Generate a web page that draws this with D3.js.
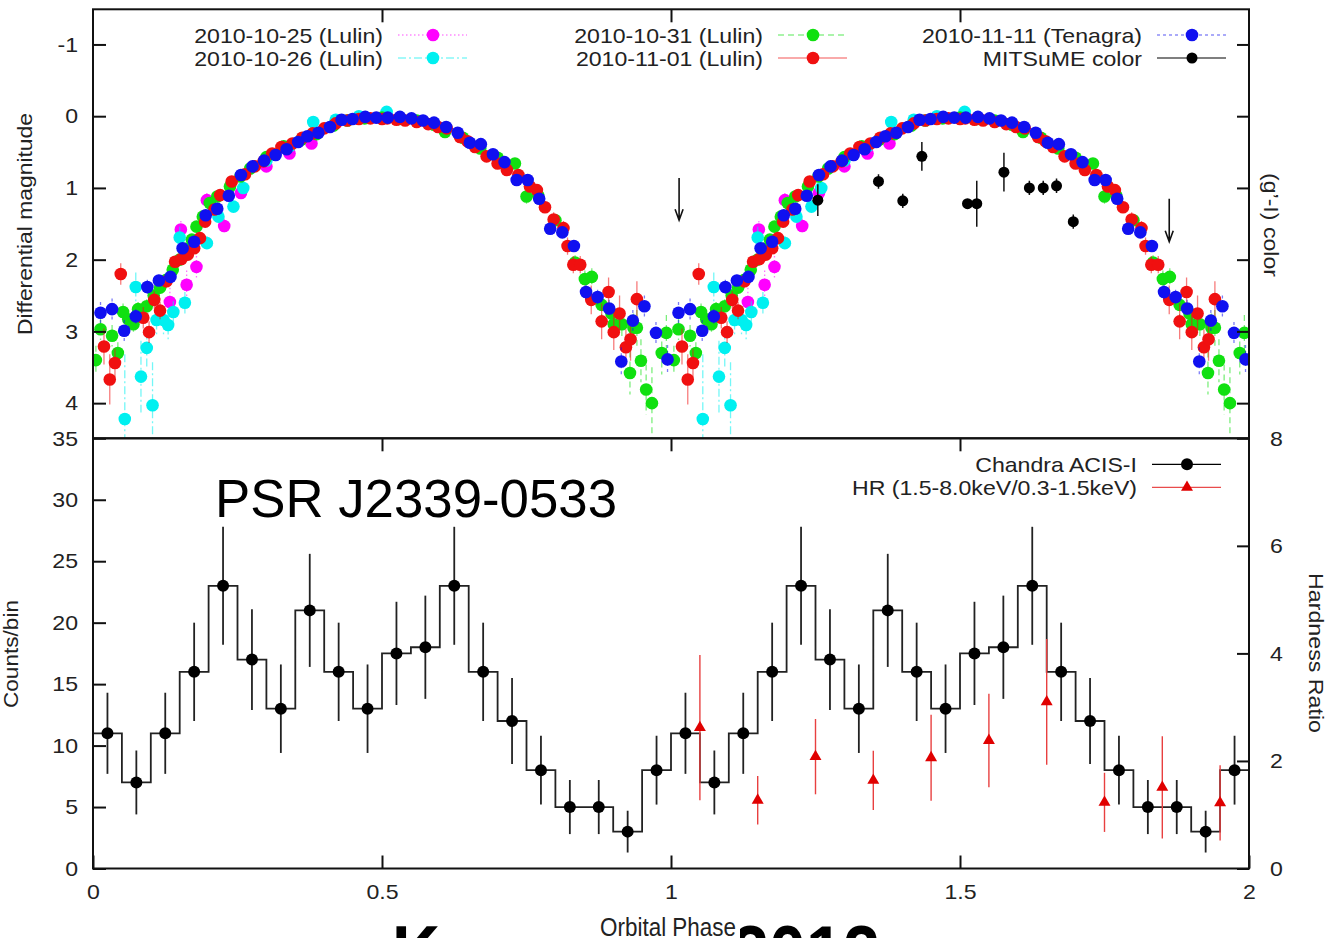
<!DOCTYPE html>
<html>
<head>
<meta charset="utf-8">
<script src="https://cdn.jsdelivr.net/npm/d3@7"></script>
<style>
  html, body { margin: 0; padding: 0; background: #fff; }
  text { font-family: "Liberation Sans", Arial, Helvetica, sans-serif; }
</style>
</head>
<body>
<div id="graph"></div>
<script>

//----------------------------------------------------------
// light curves, one orbital cycle each: [phase, magnitude, error]
const lulin1025 = [
  [0.133, 2.59, 0.20], [0.152, 1.58, 0.12], [0.162, 2.35, 0.20], [0.179, 2.10, 0.15],
  [0.197, 1.17, 0.10], [0.227, 1.53, 0.10], [0.256, 1.07, 0.08], [0.300, 0.70, 0.06],
  [0.340, 0.52, 0.06], [0.378, 0.38, 0.05], [0.420, 0.10, 0.04], [0.470, 0.02, 0.04]
];

const lulin1026 = [
  [0.055, 4.22, 0.90], [0.074, 2.38, 0.20], [0.083, 3.63, 0.50], [0.093, 3.23, 0.30],
  [0.103, 4.03, 0.60], [0.110, 2.84, 0.20], [0.122, 2.84, 0.20], [0.130, 2.91, 0.20],
  [0.139, 2.73, 0.15], [0.150, 1.69, 0.15], [0.159, 2.60, 0.15], [0.197, 1.77, 0.10],
  [0.217, 1.40, 0.08], [0.243, 1.26, 0.07], [0.260, 1.00, 0.06], [0.300, 0.62, 0.05],
  [0.340, 0.42, 0.05], [0.381, 0.08, 0.05], [0.420, 0.05, 0.04], [0.460, 0.00, 0.04],
  [0.508, -0.06, 0.04]
];

const lulin1031 = [
  [0.005, 3.40, 0.20], [0.013, 2.97, 0.15], [0.033, 3.06, 0.15], [0.043, 3.30, 0.15],
  [0.052, 2.73, 0.12], [0.061, 2.83, 0.12], [0.070, 2.90, 0.12], [0.078, 2.69, 0.10],
  [0.093, 2.65, 0.10], [0.105, 2.50, 0.08], [0.116, 2.39, 0.08], [0.127, 2.28, 0.07],
  [0.138, 2.14, 0.07], [0.150, 2.00, 0.06], [0.160, 1.85, 0.06], [0.171, 1.72, 0.05],
  [0.179, 1.54, 0.05], [0.190, 1.40, 0.05], [0.202, 1.21, 0.05], [0.215, 1.12, 0.04],
  [0.237, 0.98, 0.04], [0.255, 0.84, 0.04], [0.272, 0.73, 0.04], [0.300, 0.57, 0.04],
  [0.330, 0.42, 0.03], [0.360, 0.33, 0.03], [0.387, 0.25, 0.03], [0.416, 0.13, 0.03],
  [0.440, 0.06, 0.03], [0.470, 0.03, 0.03], [0.500, 0.02, 0.03], [0.530, 0.04, 0.03],
  [0.560, 0.06, 0.03], [0.590, 0.12, 0.03], [0.609, 0.22, 0.03], [0.640, 0.30, 0.04],
  [0.670, 0.45, 0.04], [0.700, 0.58, 0.05], [0.730, 0.66, 0.05], [0.750, 1.12, 0.10],
  [0.770, 1.10, 0.06], [0.800, 1.45, 0.08], [0.834, 2.04, 0.10], [0.851, 2.27, 0.12],
  [0.863, 2.24, 0.12], [0.880, 2.63, 0.15], [0.897, 2.75, 0.15], [0.901, 2.90, 0.20],
  [0.915, 2.90, 0.20], [0.929, 3.58, 0.30], [0.935, 2.95, 0.20], [0.941, 2.95, 0.25],
  [0.948, 3.41, 0.30], [0.957, 3.81, 0.35], [0.967, 4.00, 0.50], [0.984, 3.30, 0.30],
  [0.992, 3.02, 0.25]
];

const lulin1101 = [
  [0.019, 3.21, 0.25], [0.029, 3.67, 0.35], [0.038, 3.44, 0.20], [0.048, 2.20, 0.15],
  [0.087, 2.81, 0.15], [0.097, 3.01, 0.15], [0.106, 2.56, 0.12], [0.116, 2.71, 0.12],
  [0.127, 2.30, 0.10], [0.142, 2.03, 0.08], [0.153, 1.99, 0.08], [0.164, 1.93, 0.07],
  [0.175, 1.84, 0.07], [0.185, 1.70, 0.06], [0.194, 1.47, 0.06], [0.210, 1.30, 0.05],
  [0.220, 1.10, 0.05], [0.240, 0.91, 0.05], [0.263, 0.81, 0.05], [0.280, 0.70, 0.04],
  [0.295, 0.63, 0.04], [0.310, 0.52, 0.04], [0.326, 0.43, 0.04], [0.345, 0.38, 0.04],
  [0.362, 0.30, 0.03], [0.380, 0.24, 0.03], [0.400, 0.17, 0.03], [0.420, 0.10, 0.03],
  [0.440, 0.06, 0.03], [0.460, 0.04, 0.03], [0.480, 0.03, 0.03], [0.500, 0.04, 0.03],
  [0.509, 0.03, 0.03], [0.525, 0.05, 0.03], [0.540, 0.06, 0.03], [0.560, 0.08, 0.03],
  [0.580, 0.11, 0.03], [0.597, 0.15, 0.03], [0.612, 0.17, 0.04], [0.635, 0.29, 0.04],
  [0.648, 0.35, 0.04], [0.661, 0.43, 0.04], [0.681, 0.56, 0.05], [0.700, 0.66, 0.05],
  [0.716, 0.75, 0.05], [0.736, 0.82, 0.06], [0.756, 0.98, 0.06], [0.768, 1.03, 0.06],
  [0.782, 1.27, 0.08], [0.797, 1.44, 0.10], [0.814, 1.56, 0.10], [0.821, 1.81, 0.12],
  [0.831, 2.07, 0.12], [0.843, 2.07, 0.12], [0.862, 2.56, 0.20], [0.880, 2.86, 0.25],
  [0.892, 2.45, 0.20], [0.901, 3.01, 0.25], [0.911, 2.75, 0.25], [0.922, 3.22, 0.25],
  [0.930, 3.11, 0.30], [0.941, 2.55, 0.25]
];

const tenagra1111 = [
  [0.013, 2.74, 0.15], [0.033, 2.69, 0.15], [0.054, 2.99, 0.15], [0.074, 2.79, 0.10],
  [0.094, 2.38, 0.10], [0.114, 2.29, 0.08], [0.134, 2.24, 0.08], [0.155, 1.84, 0.06],
  [0.175, 1.75, 0.06], [0.195, 1.38, 0.05], [0.215, 1.29, 0.05], [0.235, 1.11, 0.05],
  [0.256, 0.82, 0.04], [0.276, 0.70, 0.04], [0.296, 0.62, 0.04], [0.316, 0.54, 0.04],
  [0.335, 0.46, 0.04], [0.355, 0.36, 0.03], [0.371, 0.28, 0.03], [0.390, 0.23, 0.03],
  [0.410, 0.15, 0.03], [0.430, 0.05, 0.03], [0.449, 0.04, 0.03], [0.471, 0.01, 0.03],
  [0.490, 0.02, 0.03], [0.510, 0.02, 0.03], [0.531, 0.01, 0.03], [0.551, 0.03, 0.03],
  [0.571, 0.06, 0.03], [0.590, 0.09, 0.03], [0.611, 0.15, 0.03], [0.631, 0.23, 0.03],
  [0.652, 0.37, 0.04], [0.671, 0.39, 0.04], [0.692, 0.53, 0.04], [0.712, 0.64, 0.04],
  [0.733, 0.89, 0.05], [0.752, 0.89, 0.05], [0.772, 1.15, 0.05], [0.791, 1.57, 0.06],
  [0.812, 1.62, 0.06], [0.832, 1.81, 0.08], [0.853, 2.45, 0.10], [0.873, 2.52, 0.10],
  [0.893, 2.68, 0.12], [0.914, 3.42, 0.20], [0.934, 2.85, 0.15], [0.954, 2.65, 0.15],
  [0.974, 3.02, 0.15], [0.994, 3.39, 0.20]
];

// MITSuME (g'-I) colour, plotted once: [phase, colour, error]
const mitsumeColour = [
  [1.254, 1.17, 0.22], [1.359, 0.91, 0.10], [1.401, 1.18, 0.10], [1.434, 0.56, 0.20],
  [1.513, 1.22, 0.06], [1.529, 1.22, 0.32], [1.576, 0.78, 0.27], [1.620, 1.00, 0.10],
  [1.644, 1.00, 0.10], [1.667, 0.97, 0.10], [1.696, 1.47, 0.10]
];

// eclipse arrows
const arrowPhase = [1.014, 1.862];
const arrowFrom = [0.86, 1.15];
const arrowTo = [1.45, 1.75];

// Chandra ACIS-I light curve
const chandraPhase = [
  0.025, 0.075, 0.125, 0.175, 0.225, 0.275, 0.325, 0.375, 0.425, 0.475,
  0.525, 0.575, 0.625, 0.675, 0.725, 0.775, 0.825, 0.875, 0.925, 0.975,
  1.025, 1.075, 1.125, 1.175, 1.225, 1.275, 1.325, 1.375, 1.425, 1.475,
  1.525, 1.575, 1.625, 1.675, 1.725, 1.775, 1.825, 1.875, 1.925, 1.975
];
const chandraCounts = [
  11, 7, 11, 16, 23, 17, 13, 21, 16, 13, 17.5, 18, 23, 16, 12, 8, 5, 5, 3, 8,
  11, 7, 11, 16, 23, 17, 13, 21, 16, 13, 17.5, 18, 23, 16, 12, 8, 5, 5, 3, 8
];
const chandraErr = [
  3.3, 2.6, 3.3, 4.0, 4.8, 4.1, 3.6, 4.6, 4.0, 3.6, 4.2, 4.2, 4.8, 4.0, 3.5, 2.8, 2.2, 2.2, 1.7, 2.8,
  3.3, 2.6, 3.3, 4.0, 4.8, 4.1, 3.6, 4.6, 4.0, 3.6, 4.2, 4.2, 4.8, 4.0, 3.5, 2.8, 2.2, 2.2, 1.7, 2.8
];
const binHalfWidth = 0.025;

// hardness ratio
const hrPhase = [1.05, 1.15, 1.25, 1.35, 1.45, 1.55, 1.65, 1.75, 1.85, 1.95];
const hrValue = [2.62, 1.27, 2.08, 1.64, 2.06, 2.38, 3.10, 1.23, 1.51, 1.22];
const hrErr = [1.35, 0.45, 0.70, 0.55, 0.80, 0.87, 1.17, 0.55, 0.95, 0.70];

// ticks
const phaseTicks = [0, 0.5, 1, 1.5, 2];
const phaseTickLabels = ["0", "0.5", "1", "1.5", "2"];
const magTicks = [-1, 0, 1, 2, 3, 4];
const countTicks = [0, 5, 10, 15, 20, 25, 30, 35];
const hrTicks = [0, 2, 4, 6, 8];


//----------------------------------------------------------
const g_frame = { left: 93, right: 1249, top: 9.3, mid: 438.3, bottom: 868.5 };

var g_svg = d3.select("#graph")
  .append("svg")
    .attr("width", 1327)
    .attr("height", 938)
    .style("display", "block");

var g_x = d3.scaleLinear().domain([0, 2]).range([g_frame.left, g_frame.right]);
var g_yMag = d3.scaleLinear().domain([-1.49, 4.49]).range([g_frame.top, g_frame.mid]);
var g_yColour = d3.scaleLinear().domain([-1.49, 4.49]).range([g_frame.top, g_frame.mid]);
var g_yCounts = d3.scaleLinear().domain([0, 35]).range([g_frame.bottom, g_frame.mid]);
var g_yHR = d3.scaleLinear().domain([0, 8]).range([g_frame.bottom, g_frame.mid]);

const g_series = [
    { name: "2010-10-25 (Lulin)", data: lulin1025, colour: "#ff00ff", dash: "1.5,2.5" },
    { name: "2010-10-26 (Lulin)", data: lulin1026, colour: "#00f0f0", dash: "8,3,2,3" },
    { name: "2010-10-31 (Lulin)", data: lulin1031, colour: "#10e010", dash: "6,4" },
    { name: "2010-11-01 (Lulin)", data: lulin1101, colour: "#f01010", dash: null },
    { name: "2010-11-11 (Tenagra)", data: tenagra1111, colour: "#1010f0", dash: "3,3" }
];


//----------------------------------------------------------
// widen text a little, the original font runs wider than Liberation Sans
function Stretch(sel, k, len) {
    sel.each(function () {
        const w = len ? len : this.getComputedTextLength() * k;
        d3.select(this)
            .attr("textLength", w)
            .attr("lengthAdjust", "spacingAndGlyphs");
    });
}

function StyleAxis(g) {
    g.attr("font-size", 21).attr("font-family", null);
    g.select(".domain").remove();
    g.selectAll("line")
        .attr("stroke", "#111")
        .attr("stroke-width", 2);
    g.selectAll("text")
        .attr("fill", "#222")
        .call(Stretch, 1.1);
}

// repeat one cycle at phase + 1
function Fold(data) {
    return data.concat(data.map(function (d) {
        return [d[0] + 1, d[1], d[2]];
    }));
}


//----------------------------------------------------------
function DrawAxes() {
    g_svg.append("g")
        .attr("transform", "translate(" + g_frame.left + ",0)")
        .call(d3.axisLeft(g_yMag).tickValues(magTicks).tickSize(-13).tickPadding(15)
            .tickFormat(function (d) { return String(d); }))
        .call(StyleAxis);

    g_svg.append("g")
        .attr("transform", "translate(" + g_frame.right + ",0)")
        .call(d3.axisRight(g_yColour).tickValues(magTicks).tickSize(-12).tickFormat(""))
        .call(StyleAxis);

    g_svg.append("g")
        .attr("transform", "translate(0," + g_frame.top + ")")
        .call(d3.axisTop(g_x).tickValues([0.5, 1, 1.5]).tickSize(-13).tickFormat(""))
        .call(StyleAxis);

    g_svg.append("g")
        .attr("transform", "translate(0," + g_frame.mid + ")")
        .call(d3.axisTop(g_x).tickValues([0.5, 1, 1.5]).tickSize(-13).tickFormat(""))
        .call(StyleAxis);

    g_svg.append("g")
        .attr("transform", "translate(0," + g_frame.bottom + ")")
        .call(d3.axisBottom(g_x).tickValues(phaseTicks).tickSize(-13).tickPadding(16)
            .tickFormat(function (d, i) { return phaseTickLabels[i]; }))
        .call(StyleAxis);

    g_svg.append("g")
        .attr("transform", "translate(" + g_frame.left + ",0)")
        .call(d3.axisLeft(g_yCounts).tickValues(countTicks).tickSize(-13).tickPadding(15))
        .call(StyleAxis);

    g_svg.append("g")
        .attr("transform", "translate(" + g_frame.right + ",0)")
        .call(d3.axisRight(g_yHR).tickValues(hrTicks).tickSize(-12).tickPadding(21))
        .call(StyleAxis);

    // frames
    [[g_frame.top, g_frame.mid], [g_frame.mid, g_frame.bottom]].forEach(function (p) {
        g_svg.append("rect")
            .attr("x", g_frame.left)
            .attr("y", p[0])
            .attr("width", g_frame.right - g_frame.left)
            .attr("height", p[1] - p[0])
            .attr("fill", "none")
            .attr("stroke", "#111")
            .attr("stroke-width", 2);
    });

    // axis titles
    const titles = [
        { t: "Differential magnitude", x: 32, y: 224, r: -90, len: 222, fs: 21 },
        { t: "Counts/bin", x: 18, y: 654, r: -90, len: 108, fs: 20 },
        { t: "(g\u2019-I) color", x: 1264, y: 225, r: 90, len: 104, fs: 20 },
        { t: "Hardness Ratio", x: 1309, y: 653, r: 90, len: 160, fs: 21 }
    ];
    titles.forEach(function (d) {
        g_svg.append("text")
            .attr("transform", "translate(" + d.x + "," + d.y + ") rotate(" + d.r + ")")
            .attr("text-anchor", "middle")
            .attr("font-size", d.fs)
            .attr("fill", "#222")
            .text(d.t)
            .call(Stretch, 1, d.len);
    });
}


//----------------------------------------------------------
function DrawLightCurves() {
    g_svg.append("clipPath")
        .attr("id", "clip-top")
      .append("rect")
        .attr("x", g_frame.left)
        .attr("y", g_frame.top)
        .attr("width", g_frame.right - g_frame.left)
        .attr("height", g_frame.mid - g_frame.top);

    const plot = g_svg.append("g")
        .attr("clip-path", "url(#clip-top)");

    g_series.forEach(function (s) {
        const pts = Fold(s.data);
        const g = plot.append("g");

        g.selectAll("line")
          .data(pts)
          .join("line")
            .attr("x1", function (d) { return g_x(d[0]); })
            .attr("x2", function (d) { return g_x(d[0]); })
            .attr("y1", function (d) { return g_yMag(d[1] - d[2]); })
            .attr("y2", function (d) { return g_yMag(d[1] + d[2]); })
            .attr("stroke", s.colour)
            .attr("stroke-opacity", 0.55)
            .attr("stroke-width", 1.3)
            .attr("stroke-dasharray", s.dash);

        g.selectAll("circle")
          .data(pts)
          .join("circle")
            .attr("cx", function (d) { return g_x(d[0]); })
            .attr("cy", function (d) { return g_yMag(d[1]); })
            .attr("r", 6.3)
            .attr("fill", s.colour);
    });

    // MITSuME colour on the right axis
    const mg = plot.append("g");
    mg.selectAll("line")
      .data(mitsumeColour)
      .join("line")
        .attr("x1", function (d) { return g_x(d[0]); })
        .attr("x2", function (d) { return g_x(d[0]); })
        .attr("y1", function (d) { return g_yColour(d[1] - d[2]); })
        .attr("y2", function (d) { return g_yColour(d[1] + d[2]); })
        .attr("stroke", "#111")
        .attr("stroke-width", 1.5);
    mg.selectAll("circle")
      .data(mitsumeColour)
      .join("circle")
        .attr("cx", function (d) { return g_x(d[0]); })
        .attr("cy", function (d) { return g_yColour(d[1]); })
        .attr("r", 5.5)
        .attr("fill", "#000");

    // arrows
    arrowPhase.forEach(function (p, i) {
        const x = g_x(p), y0 = g_yMag(arrowFrom[i]), y1 = g_yMag(arrowTo[i]);
        g_svg.append("path")
            .attr("d", "M" + x + "," + y0 + "L" + x + "," + y1 +
                       "M" + (x - 4) + "," + (y1 - 11) + "L" + x + "," + y1 + "L" + (x + 4) + "," + (y1 - 11))
            .attr("fill", "none")
            .attr("stroke", "#111")
            .attr("stroke-width", 1.6);
    });
}


//----------------------------------------------------------
function DrawXray() {
    // step histogram
    const steps = chandraPhase.map(function (p, i) {
        return [p - binHalfWidth, chandraCounts[i]];
    });
    steps.push([chandraPhase[chandraPhase.length - 1] + binHalfWidth, chandraCounts[chandraCounts.length - 1]]);

    const line = d3.line()
        .x(function (d) { return g_x(d[0]); })
        .y(function (d) { return g_yCounts(d[1]); })
        .curve(d3.curveStepAfter);

    g_svg.append("path")
        .attr("d", line(steps))
        .attr("fill", "none")
        .attr("stroke", "#222")
        .attr("stroke-width", 1.8);

    const cg = g_svg.append("g");
    cg.selectAll("line")
      .data(chandraPhase)
      .join("line")
        .attr("x1", function (d) { return g_x(d); })
        .attr("x2", function (d) { return g_x(d); })
        .attr("y1", function (d, i) { return g_yCounts(chandraCounts[i] - chandraErr[i]); })
        .attr("y2", function (d, i) { return g_yCounts(chandraCounts[i] + chandraErr[i]); })
        .attr("stroke", "#222")
        .attr("stroke-width", 1.8);
    cg.selectAll("circle")
      .data(chandraPhase)
      .join("circle")
        .attr("cx", function (d) { return g_x(d); })
        .attr("cy", function (d, i) { return g_yCounts(chandraCounts[i]); })
        .attr("r", 6)
        .attr("fill", "#000");

    // hardness ratio
    const hg = g_svg.append("g");
    hg.selectAll("line")
      .data(hrPhase)
      .join("line")
        .attr("x1", function (d) { return g_x(d); })
        .attr("x2", function (d) { return g_x(d); })
        .attr("y1", function (d, i) { return g_yHR(hrValue[i] - hrErr[i]); })
        .attr("y2", function (d, i) { return g_yHR(hrValue[i] + hrErr[i]); })
        .attr("stroke", "#e84040")
        .attr("stroke-width", 1.4);
    hg.selectAll("path")
      .data(hrPhase)
      .join("path")
        .attr("d", d3.symbol(d3.symbolTriangle, 62))
        .attr("transform", function (d, i) {
            return "translate(" + g_x(d) + "," + g_yHR(hrValue[i]) + ")";
        })
        .attr("fill", "#e00000");
}


//----------------------------------------------------------
function DrawLegends() {
    const cols = [383, 763, 1142];
    const rows = [35, 58];
    const entries = g_series.map(function (s) {
        return { name: s.name, colour: s.colour, dash: s.dash, shape: "circle" };
    });
    entries.push({ name: "MITSuME color", colour: "#000", dash: null, shape: "circle", r: 5.5 });

    entries.forEach(function (e, i) {
        const x = cols[Math.floor(i / 2)], y = rows[i % 2];
        DrawLegendEntry(e, x, y);
    });

    DrawLegendEntry({ name: "Chandra ACIS-I", colour: "#000", dash: null, shape: "circle", r: 6 }, 1137, 464.3);
    DrawLegendEntry({ name: "HR (1.5-8.0keV/0.3-1.5keV)", colour: "#e00000", dash: null, shape: "triangle" }, 1137, 487.3);
}

function DrawLegendEntry(e, x, y) {
    g_svg.append("text")
        .attr("x", x)
        .attr("y", y + 7.6)
        .attr("text-anchor", "end")
        .attr("font-size", 21)
        .attr("fill", "#222")
        .text(e.name)
        .call(Stretch, 1.1);

    g_svg.append("line")
        .attr("x1", x + 15)
        .attr("x2", x + 84)
        .attr("y1", y)
        .attr("y2", y)
        .attr("stroke", e.colour)
        .attr("stroke-opacity", e.colour === "#000" ? 1 : 0.7)
        .attr("stroke-width", 1.2)
        .attr("stroke-dasharray", e.dash);

    if (e.shape === "triangle") {
        g_svg.append("path")
            .attr("d", d3.symbol(d3.symbolTriangle, 62)())
            .attr("transform", "translate(" + (x + 50) + "," + y + ")")
            .attr("fill", e.colour);
    } else {
        g_svg.append("circle")
            .attr("cx", x + 50)
            .attr("cy", y)
            .attr("r", e.r || 6.3)
            .attr("fill", e.colour);
    }
}


//----------------------------------------------------------
function DrawOverlays() {
    g_svg.append("text")
        .attr("x", 215)
        .attr("y", 516.5)
        .attr("font-size", 53.5)
        .attr("fill", "#000")
        .text("PSR J2339-0533")
        .call(Stretch, 1, 402);

    // big caption, mostly below the bottom edge: only the tall glyphs show
    g_svg.append("text")
        .attr("x", 392)
        .attr("y", 980)
        .attr("font-size", 77)
        .attr("font-weight", "bold")
        .attr("fill", "#000")
        .text("Kong et al 2012")
        .call(Stretch, 1, 488);

    // white patch behind the axis title hides the middle of the caption
    g_svg.append("rect")
        .attr("x", 505)
        .attr("y", 912)
        .attr("width", 235)
        .attr("height", 26)
        .attr("fill", "#fff");

    g_svg.append("text")
        .attr("x", 668)
        .attr("y", 936)
        .attr("text-anchor", "middle")
        .attr("font-size", 25)
        .attr("fill", "#222")
        .text("Orbital Phase")
        .call(Stretch, 1, 136);
}


//----------------------------------------------------------
DrawXray();
DrawLightCurves();
DrawAxes();
DrawLegends();
DrawOverlays();

</script>
</body>
</html>
